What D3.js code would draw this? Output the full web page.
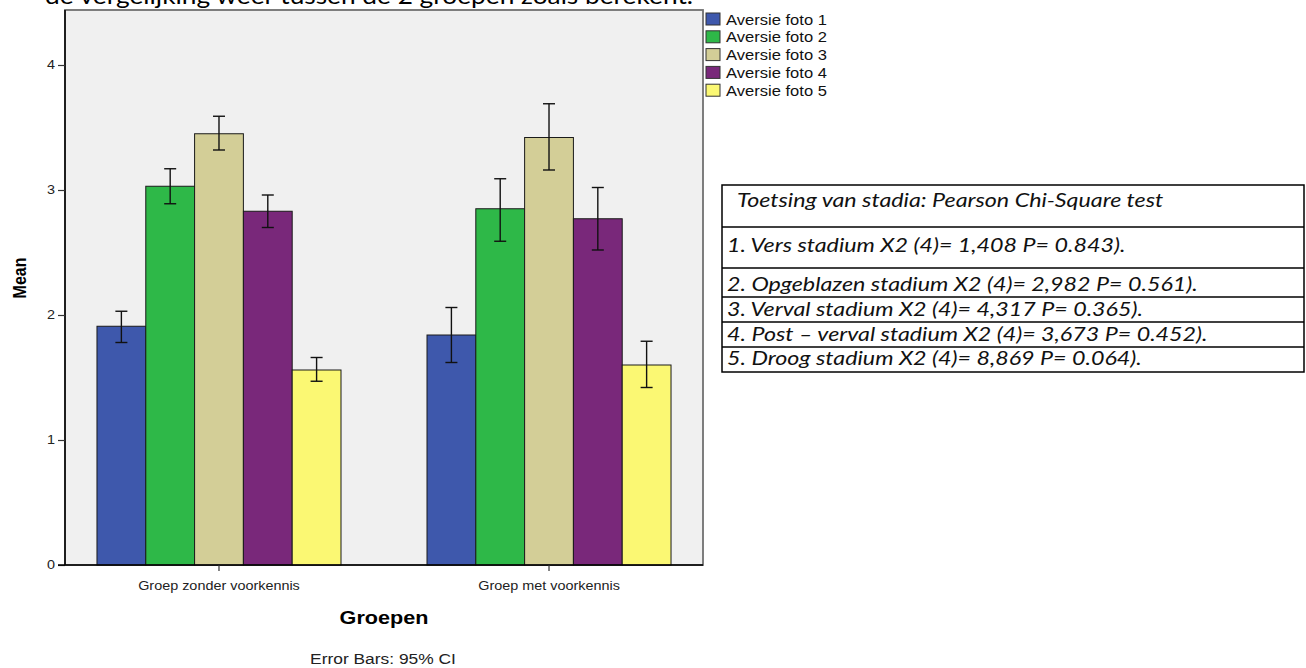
<!DOCTYPE html>
<html>
<head>
<meta charset="utf-8">
<script src="https://cdn.jsdelivr.net/npm/d3@7"></script>
<style>
  html, body { margin: 0; padding: 0; background: #ffffff; }
  svg { display: block; }
</style>
</head>
<body>
<svg id="chart" width="1306" height="668"></svg>
<script>
// ---------- DATA ----------
const groups = ["Groep zonder voorkennis", "Groep met voorkennis"];
const series = ["Aversie foto 1", "Aversie foto 2", "Aversie foto 3", "Aversie foto 4", "Aversie foto 5"];
const meansZonder = [1.91, 3.03, 3.45, 2.83, 1.56];
const meansMet    = [1.84, 2.85, 3.42, 2.77, 1.60];
const ciLowZonder  = [1.78, 2.89, 3.32, 2.70, 1.47];
const ciHighZonder = [2.03, 3.17, 3.59, 2.96, 1.66];
const ciLowMet     = [1.62, 2.59, 3.16, 2.52, 1.42];
const ciHighMet    = [2.06, 3.09, 3.69, 3.02, 1.79];
const yTicks = [0, 1, 2, 3, 4];
const seriesColors = ["#3e58ac", "#2eb848", "#d3ce97", "#79287a", "#fbf873"];
const yTitle = "Mean";
const xTitle = "Groepen";
const footnote = "Error Bars: 95% CI";
const topText = "de vergelijking weer tussen de 2 groepen zoals berekent.";
const tableLines = [
  "Toetsing van stadia: Pearson Chi-Square test",
  "1. Vers stadium X2 (4)= 1,408 P= 0.843).",
  "2. Opgeblazen stadium X2 (4)= 2,982 P= 0.561).",
  "3. Verval stadium X2 (4)= 4,317 P= 0.365).",
  "4. Post \u2013 verval stadium X2 (4)= 3,673 P= 0.452).",
  "5. Droog stadium X2 (4)= 8,869 P= 0.064)."
];

const means = [meansZonder, meansMet];
const ciLow = [ciLowZonder, ciLowMet];
const ciHigh = [ciHighZonder, ciHighMet];
const rows = [];
groups.forEach((g, gi) => series.forEach((s, si) => rows.push({
  group: g, series: s, mean: means[gi][si], lo: ciLow[gi][si], hi: ciHigh[gi][si], color: seriesColors[si]
})));

// ---------- LAYOUT ----------
const svg = d3.select("#chart");
const plot = { left: 65, right: 703, top: 10, bottom: 565 };
const SX = 1.2; // horizontal stretch of chart text
const chartFont = "'Liberation Sans', Arial, sans-serif";

const y = d3.scaleLinear().domain([0, 4.44]).range([plot.bottom, plot.top]);
const x0 = d3.scaleBand().domain(groups).range([plot.left, plot.right]).paddingInner(0.2606).paddingOuter(0.0969);
const x1 = d3.scaleBand().domain(series).range([0, x0.bandwidth()]).padding(0);

function stretchedText(parent, x, yy, txt, opts) {
  const g = parent.append("g").attr("transform", `translate(${x},${yy}) scale(${SX},1)`);
  return g.append("text")
    .attr("x", 0).attr("y", 0)
    .attr("text-anchor", opts.anchor || "start")
    .attr("font-family", chartFont)
    .attr("font-size", opts.size)
    .attr("font-weight", opts.bold ? "bold" : "normal")
    .attr("fill", opts.fill || "#000")
    .text(txt);
}

// top text (cut off by the page edge, as in the reference)
svg.append("text")
  .attr("x", 45).attr("y", 4)
  .attr("font-family", "Lato, 'Open Sans', sans-serif")
  .attr("font-size", 23)
  .attr("textLength", 648).attr("lengthAdjust", "spacingAndGlyphs")
  .text(topText);

// plot background
svg.append("rect")
  .attr("x", plot.left).attr("y", plot.top)
  .attr("width", plot.right - plot.left).attr("height", plot.bottom - plot.top)
  .attr("fill", "#f0f0f0").attr("stroke", "#707070").attr("stroke-width", 1.8);

// bars
const gBars = svg.append("g");
gBars.selectAll("rect.bar").data(rows).join("rect")
  .attr("class", "bar")
  .attr("x", d => x0(d.group) + x1(d.series))
  .attr("y", d => y(d.mean))
  .attr("width", x1.bandwidth())
  .attr("height", d => y(0) - y(d.mean))
  .attr("fill", d => d.color)
  .attr("stroke", "#1a1a1a").attr("stroke-width", 1);

// error bars
const capW = 12;
const gErr = svg.append("g").attr("stroke", "#111").attr("stroke-width", 1.4);
rows.forEach(d => {
  const cx = x0(d.group) + x1(d.series) + x1.bandwidth() / 2;
  gErr.append("line").attr("x1", cx).attr("x2", cx).attr("y1", y(d.lo)).attr("y2", y(d.hi));
  gErr.append("line").attr("x1", cx - capW / 2).attr("x2", cx + capW / 2).attr("y1", y(d.hi)).attr("y2", y(d.hi));
  gErr.append("line").attr("x1", cx - capW / 2).attr("x2", cx + capW / 2).attr("y1", y(d.lo)).attr("y2", y(d.lo));
});

// y axis
const yAxis = d3.axisLeft(y).tickValues(yTicks).tickFormat(d3.format("d")).tickSize(7).tickPadding(3);
const gy = svg.append("g").attr("transform", `translate(${plot.left},0)`).call(yAxis);
gy.select(".domain").attr("stroke", "#000").attr("stroke-width", 1.5).attr("d", `M0,${plot.top}V${plot.bottom}`);
gy.selectAll(".tick line").attr("stroke", "#333").attr("stroke-width", 1.2);
gy.selectAll(".tick text").each(function() {
  const t = d3.select(this);
  const tx = +t.attr("x");
  t.attr("x", null).attr("transform", `translate(${tx},0) scale(${SX},1)`)
   .attr("font-family", chartFont).attr("font-size", 12).attr("fill", "#222");
});

// x axis
const xAxis = d3.axisBottom(x0).tickSize(6).tickPadding(12);
const gx = svg.append("g").attr("transform", `translate(0,${plot.bottom})`).call(xAxis);
gx.select(".domain").attr("stroke", "#000").attr("stroke-width", 1.5).attr("d", `M${plot.left - 7},0H${plot.right}`);
gx.selectAll(".tick line").attr("stroke", "#333").attr("stroke-width", 1.2);
gx.selectAll(".tick text").attr("transform", `scale(${SX},1)`)
  .attr("font-family", chartFont).attr("font-size", 12).attr("fill", "#222")
  .attr("dy", "0.6em");

// axis titles
stretchedText(svg, (plot.left + plot.right) / 2, 624, xTitle, { anchor: "middle", size: 18, bold: true });
svg.append("text")
  .attr("transform", `translate(26,278) rotate(-90) scale(1,${SX})`)
  .attr("text-anchor", "middle")
  .attr("font-family", chartFont).attr("font-size", 16).attr("font-weight", "bold")
  .text(yTitle);
stretchedText(svg, (plot.left + plot.right) / 2 - 1, 664, footnote, { anchor: "middle", size: 14.5, fill: "#222" });

// legend
const legend = svg.append("g").attr("transform", "translate(706,13)");
series.forEach((s, i) => {
  const g = legend.append("g").attr("transform", `translate(0,${i * 17.8})`);
  g.append("rect").attr("x", 0).attr("y", 0).attr("width", 14).attr("height", 12)
    .attr("fill", seriesColors[i]).attr("stroke", "#333").attr("stroke-width", 1);
  stretchedText(g, 20, 11.5, s, { size: 13.8, fill: "#111" });
});

// table
const table = { left: 722, right: 1304, lines: [185, 227, 268, 297, 322, 347, 372] };
const gT = svg.append("g");
gT.append("rect").attr("x", table.left).attr("y", table.lines[0])
  .attr("width", table.right - table.left).attr("height", table.lines[6] - table.lines[0])
  .attr("fill", "#fff").attr("stroke", "#000").attr("stroke-width", 1.5);
table.lines.slice(1, 6).forEach(ly => gT.append("line")
  .attr("x1", table.left).attr("x2", table.right).attr("y1", ly).attr("y2", ly)
  .attr("stroke", "#000").attr("stroke-width", 1.5));
const textBaselines = [207, 252, 291, 316, 341, 365];
const tTexts = tableLines.map((t, i) => gT.append("text")
  .attr("x", 0).attr("y", 0)
  .attr("font-family", "Lato, 'Open Sans', sans-serif").attr("font-style", "italic")
  .attr("font-size", 19).attr("fill", "#111")
  .text(t));
// stretch the rows so that row 2 spans the width seen in the reference (727 -> 1198)
const w2 = tTexts[2].node().getComputedTextLength();
const tsx = 471 / w2;
tTexts.forEach((t, i) => t.attr("transform", `translate(${i === 0 ? 737 : 727},${textBaselines[i]}) scale(${tsx},1)`));
</script>
</body>
</html>
